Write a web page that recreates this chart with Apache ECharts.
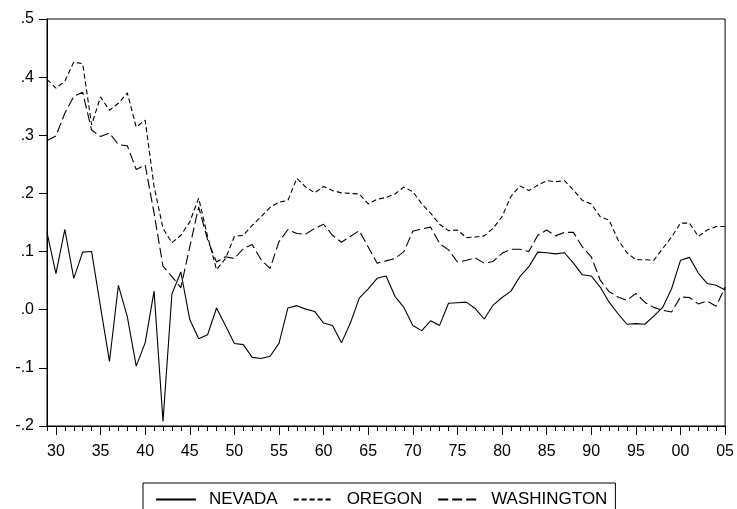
<!DOCTYPE html>
<html>
<head>
<meta charset="utf-8">
<script src="https://cdn.jsdelivr.net/npm/echarts@6/dist/echarts.min.js"></script>
<style>
  html, body { margin: 0; padding: 0; background: #fff; }
  #chart { width: 737px; height: 509px; }
</style>
</head>
<body>
<div id="chart"></div>
<script>
// years 1929..2005
var years = [1929, 1930, 1931, 1932, 1933, 1934, 1935, 1936, 1937, 1938,
  1939, 1940, 1941, 1942, 1943, 1944, 1945, 1946, 1947, 1948,
  1949, 1950, 1951, 1952, 1953, 1954, 1955, 1956, 1957, 1958,
  1959, 1960, 1961, 1962, 1963, 1964, 1965, 1966, 1967, 1968,
  1969, 1970, 1971, 1972, 1973, 1974, 1975, 1976, 1977, 1978,
  1979, 1980, 1981, 1982, 1983, 1984, 1985, 1986, 1987, 1988,
  1989, 1990, 1991, 1992, 1993, 1994, 1995, 1996, 1997, 1998,
  1999, 2000, 2001, 2002, 2003, 2004, 2005];

var nevada = [0.133, 0.062, 0.138, 0.054, 0.099, 0.100, 0.005, -0.089, 0.042, -0.012,
  -0.097, -0.057, 0.032, -0.192, 0.027, 0.065, -0.017, -0.050, -0.043, 0.003,
  -0.027, -0.058, -0.060, -0.082, -0.084, -0.080, -0.058, 0.003, 0.007, 0.001,
  -0.003, -0.023, -0.027, -0.057, -0.023, 0.020, 0.036, 0.054, 0.058, 0.023,
  0.004, -0.027, -0.036, -0.019, -0.027, 0.011, 0.012, 0.013, 0.002, -0.016,
  0.008, 0.021, 0.032, 0.057, 0.074, 0.099, 0.098, 0.096, 0.098, 0.080,
  0.060, 0.058, 0.039, 0.013, -0.007, -0.025, -0.024, -0.025, -0.011, 0.004,
  0.036, 0.085, 0.090, 0.063, 0.045, 0.042, 0.034];

var oregon = [0.396, 0.381, 0.393, 0.426, 0.423, 0.318, 0.366, 0.343, 0.355, 0.373,
  0.314, 0.326, 0.212, 0.140, 0.115, 0.128, 0.151, 0.192, 0.126, 0.069,
  0.088, 0.126, 0.128, 0.145, 0.160, 0.176, 0.185, 0.188, 0.226, 0.211,
  0.201, 0.212, 0.205, 0.201, 0.200, 0.199, 0.182, 0.190, 0.193, 0.199,
  0.211, 0.203, 0.182, 0.166, 0.147, 0.136, 0.137, 0.124, 0.125, 0.127,
  0.140, 0.160, 0.195, 0.213, 0.205, 0.214, 0.222, 0.220, 0.222, 0.206,
  0.188, 0.182, 0.160, 0.154, 0.120, 0.098, 0.086, 0.086, 0.085, 0.105,
  0.125, 0.149, 0.149, 0.126, 0.137, 0.143, 0.143];

var washington = [0.291, 0.299, 0.338, 0.367, 0.374, 0.309, 0.298, 0.304, 0.284, 0.282,
  0.241, 0.249, 0.166, 0.075, 0.057, 0.038, 0.108, 0.177, 0.120, 0.082,
  0.091, 0.088, 0.105, 0.112, 0.086, 0.071, 0.117, 0.138, 0.131, 0.130,
  0.140, 0.147, 0.128, 0.116, 0.126, 0.136, 0.108, 0.080, 0.084, 0.088,
  0.100, 0.135, 0.139, 0.142, 0.114, 0.103, 0.082, 0.085, 0.089, 0.080,
  0.083, 0.097, 0.104, 0.104, 0.100, 0.128, 0.137, 0.127, 0.133, 0.133,
  0.108, 0.091, 0.051, 0.031, 0.022, 0.016, 0.028, 0.013, 0.004, -0.001,
  -0.004, 0.022, 0.021, 0.010, 0.015, 0.006, 0.039];

var FONT = "'Liberation Sans', Arial, sans-serif";

function isMajor(i) { return years[i] % 5 === 0; }

var chart = echarts.init(document.getElementById('chart'), null, { renderer: 'canvas' });

var option = {
  animation: false,
  backgroundColor: '#fff',
  grid: {
    left: 47, right: 11, top: 19, bottom: 83,
    show: true, borderColor: '#000', borderWidth: 1
  },
  legend: {
    left: 143, top: 483,
    padding: [8, 8, 8, 12],
    borderColor: '#000', borderWidth: 1,
    itemWidth: 40, itemHeight: 14, itemGap: 15,
    itemStyle: { opacity: 0 },
    textStyle: { fontFamily: FONT, fontSize: 17, color: '#000', padding: [0, 0, 0, 8] },
    data: ['NEVADA', 'OREGON', 'WASHINGTON']
  },
  xAxis: [
    {
      // minor ticks, every year
      type: 'category', data: years, boundaryGap: false,
      axisLine: { onZero: false, lineStyle: { color: '#000', width: 1 } },
      axisTick: { interval: 0, length: 5, lineStyle: { color: '#000' } },
      axisLabel: { show: false },
      splitLine: { show: false }
    },
    {
      // major ticks + labels every 5 years
      type: 'category', data: years, boundaryGap: false, position: 'bottom',
      axisLine: { show: false, onZero: false },
      axisTick: { interval: function (i) { return isMajor(i); }, length: 9, lineStyle: { color: '#000' } },
      axisLabel: {
        interval: function (i) { return isMajor(i); },
        formatter: function (v) { return String(v).slice(2); },
        fontFamily: FONT, fontSize: 16, color: '#000', margin: 18
      },
      splitLine: { show: false }
    }
  ],
  yAxis: {
    type: 'value', min: -0.2, max: 0.5, interval: 0.1,
    axisLine: { show: true, lineStyle: { color: '#000', width: 1 } },
    axisTick: { show: true, length: 8, lineStyle: { color: '#000' } },
    axisLabel: {
      fontFamily: FONT, fontSize: 16, color: '#000', margin: 13,
      formatter: function (v) { return v.toFixed(1).replace('0.', '.'); }
    },
    splitLine: { show: false }
  },
  series: [
    {
      name: 'NEVADA', type: 'line', data: nevada, xAxisIndex: 0,
      symbol: 'none', color: '#000',
      lineStyle: { color: '#000', width: 1.1, type: 'solid' }
    },
    {
      name: 'OREGON', type: 'line', data: oregon, xAxisIndex: 0,
      symbol: 'none', color: '#000',
      lineStyle: { color: '#000', width: 1.1, type: [5, 3] }
    },
    {
      name: 'WASHINGTON', type: 'line', data: washington, xAxisIndex: 0,
      symbol: 'none', color: '#000',
      lineStyle: { color: '#000', width: 1.1, type: [10, 4] }
    }
  ]
};

chart.setOption(option);
</script>
</body>
</html>
